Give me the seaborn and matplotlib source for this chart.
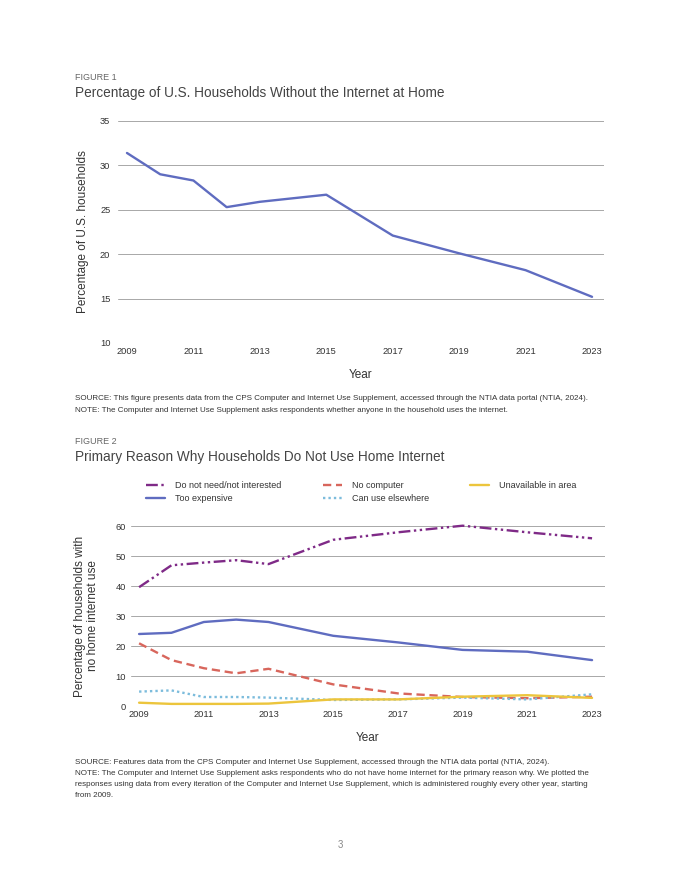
import matplotlib
matplotlib.use('Agg')
import matplotlib.pyplot as plt
import seaborn as sns
import pandas as pd

# Data
years = [2009, 2010, 2011, 2012, 2013, 2015, 2017, 2019, 2021, 2023]
no_internet = [31.4, 29.0, 28.3, 25.3, 25.9, 26.7, 22.1, 20.1, 18.2, 15.2]

not_interested = [39.6, 46.9, 47.8, 48.6, 47.3, 55.4, 57.9, 60.1, 57.9, 55.9]
too_expensive = [24.0, 24.4, 28.0, 28.8, 28.0, 23.4, 21.2, 18.7, 18.1, 15.3]
no_computer = [20.9, 15.3, 12.6, 10.9, 12.4, 7.2, 4.2, 3.0, 2.6, 3.1]
use_elsewhere = [4.8, 5.2, 3.0, 3.0, 2.8, 2.0, 2.2, 2.8, 2.2, 3.9]
unavailable = [1.1, 0.7, 0.7, 0.7, 0.8, 2.2, 2.2, 3.1, 3.6, 2.7]

xticks = [2009, 2011, 2013, 2015, 2017, 2019, 2021, 2023]

sns.set_theme(style='white')
plt.rcParams['font.family'] = ['Liberation Sans', 'DejaVu Sans']

W, H = 680, 880
fig = plt.figure(figsize=(W / 100, H / 100), dpi=100)
grey = '#a8a8a8'
txt = '#333333'


def box(l, t, r, b):
    return [l / W, 1 - b / H, (r - l) / W, (b - t) / H]


def style_axis(ax, ypad):
    for s in ax.spines.values():
        s.set_visible(False)
    ax.grid(axis='y', color=grey, linewidth=0.7)
    ax.grid(axis='x', visible=False)
    ax.tick_params(axis='both', length=0, labelsize=6.7, colors=txt)
    ax.tick_params(axis='y', pad=ypad)
    ax.tick_params(axis='x', pad=3)
    ax.set_xticks(xticks)
    ax.set_xticklabels([str(y) for y in xticks])


# ---- Figure 1 ----
fig.text(75 / W, 1 - 77 / H, 'FIGURE 1', fontsize=6.5, color='#666666', va='center')
fig.text(75 / W, 1 - 93 / H, 'Percentage of U.S. Households Without the Internet at Home',
         fontsize=9.8, color='#444444', va='center')

ax1 = fig.add_axes(box(118, 121, 604, 343))
df1 = pd.DataFrame({'Year': years, 'Pct': no_internet})
sns.lineplot(data=df1, x='Year', y='Pct', ax=ax1, color='#5f6cc0', linewidth=1.7)
ax1.set_xlim(2008.73, 2023.36)
ax1.set_ylim(10, 35)
ax1.set_yticks([10, 15, 20, 25, 30, 35])
style_axis(ax1, 5.5)
ax1.set_xlabel('Year', fontsize=8.5, color=txt, labelpad=9)
ax1.set_ylabel('Percentage of U.S. households', fontsize=8.5, color=txt, labelpad=8)

fig.text(75 / W, 1 - 398 / H,
         'SOURCE: This figure presents data from the CPS Computer and Internet Use Supplement, '
         'accessed through the NTIA data portal (NTIA, 2024).',
         fontsize=5.8, color=txt, va='center')
fig.text(75 / W, 1 - 410 / H,
         'NOTE: The Computer and Internet Use Supplement asks respondents whether anyone in the '
         'household uses the internet.',
         fontsize=5.8, color=txt, va='center')

# ---- Figure 2 ----
fig.text(75 / W, 1 - 441 / H, 'FIGURE 2', fontsize=6.5, color='#666666', va='center')
fig.text(75 / W, 1 - 457 / H, 'Primary Reason Why Households Do Not Use Home Internet',
         fontsize=9.8, color='#444444', va='center')

ax2 = fig.add_axes(box(131, 526, 605, 706))
series = [
    ('Do not need/not interested', not_interested, '#7f2a87', (5, 1.5, 1, 1.5, 1, 1.5)),
    ('Too expensive', too_expensive, '#5f6cc0', None),
    ('No computer', no_computer, '#d8665c', (3.5, 2)),
    ('Can use elsewhere', use_elsewhere, '#7cbcdc', (1, 1.3)),
    ('Unavailable in area', unavailable, '#ecc53c', None),
]
for name, vals, col, dash in series:
    d = pd.DataFrame({'Year': years, 'Pct': vals})
    sns.lineplot(data=d, x='Year', y='Pct', ax=ax2, color=col, linewidth=1.7,
                 label=name, clip_on=False)
    if dash is not None:
        ax2.lines[-1].set_dashes(dash)
ax2.set_xlim(2008.75, 2023.4)
ax2.set_ylim(0, 60)
ax2.set_yticks([0, 10, 20, 30, 40, 50, 60])
style_axis(ax2, 3.5)
ax2.set_xlabel('Year', fontsize=8.5, color=txt, labelpad=9)
ax2.set_ylabel('Percentage of households with\nno home internet use', fontsize=8.5,
               color=txt, labelpad=12, linespacing=1.1)
ax2.legend(loc='upper left', bbox_to_anchor=(146 / W, 1 - 481 / H),
           bbox_transform=fig.transFigure, ncol=3, frameon=False, fontsize=6.5,
           handlelength=2.1, handletextpad=1.1, columnspacing=4.6, labelspacing=0.45,
           labelcolor=txt, borderaxespad=0, borderpad=0)

fig.text(75 / W, 1 - 762 / H,
         'SOURCE: Features data from the CPS Computer and Internet Use Supplement, accessed '
         'through the NTIA data portal (NTIA, 2024).',
         fontsize=5.8, color=txt, va='center')
fig.text(75 / W, 1 - 773 / H,
         'NOTE: The Computer and Internet Use Supplement asks respondents who do not have home '
         'internet for the primary reason why. We plotted the',
         fontsize=5.8, color=txt, va='center')
fig.text(75 / W, 1 - 784 / H,
         'responses using data from every iteration of the Computer and Internet Use Supplement, '
         'which is administered roughly every other year, starting',
         fontsize=5.8, color=txt, va='center')
fig.text(75 / W, 1 - 795 / H, 'from 2009.', fontsize=5.8, color=txt, va='center')

fig.text(340 / W, 1 - 845 / H, '3', fontsize=7, color='#888888', ha='center', va='center')

fig.savefig('out.png', dpi=100, facecolor='white')
